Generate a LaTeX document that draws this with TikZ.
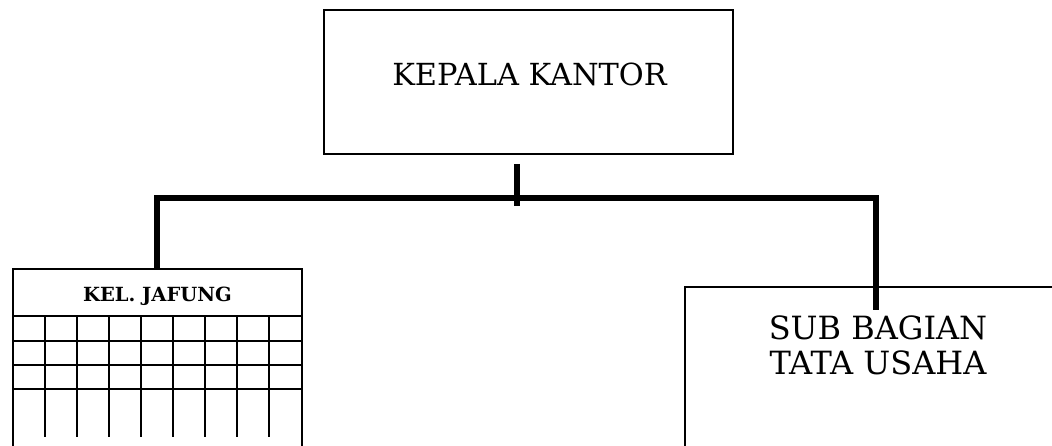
\documentclass[tikz,border=0pt]{standalone}
\usepackage{fontspec}
\setmainfont{DejaVu Serif}
\begin{document}
\begin{tikzpicture}[x=1pt,y=-1pt,
  box/.style={draw=black, line width=1.5pt, rectangle, inner sep=0pt},
  grid/.style={draw=black, line width=1.5pt},
  conn/.style={draw=black, line width=6pt},
  lbl/.style={inner sep=0pt, align=center}]
\useasboundingbox (0,0) rectangle (1052,446);
\clip (0,0) rectangle (1052,446);
% boxes
\node[box, minimum width=409pt, minimum height=144pt] (kepala) at (528.5,82) {};
\node[lbl, font=\fontsize{30.4}{36}\selectfont] (kepalatxt) at (529.5,74) {KEPALA KANTOR};
\node[box, minimum width=289pt, minimum height=200pt] (jafung) at (157.5,369) {};
\node[lbl, font=\bfseries\fontsize{19.5}{23}\selectfont] (jafungtxt) at (157.5,296) {KEL. JAFUNG};
\node[box, minimum width=400pt, minimum height=200pt] (subbag) at (885,387) {};
\node[lbl, font=\fontsize{32}{35}\selectfont] (subbagtxt) at (878,345) {SUB BAGIAN\\TATA USAHA};
% grid inside KEL. JAFUNG
\draw[grid] (13,316) -- (302,316);
\foreach \y in {341,365,389} \draw[grid] (13,\y) -- (302,\y);
\foreach \x in {45,77,109,141,173,205,237,269} \draw[grid] (\x,316) -- (\x,437);
% connectors
\coordinate (stubtop) at (517,164);
\coordinate (stubbot) at (517,206);
\coordinate (barL) at (157,198);
\coordinate (barR) at (876,198);
\coordinate (subin) at (876,310);
\draw[conn] (stubtop) -- (stubbot);
\draw[conn] (jafung.north -| barL) -- (barL) -- (barR) -- (subin);
\end{tikzpicture}
\end{document}
